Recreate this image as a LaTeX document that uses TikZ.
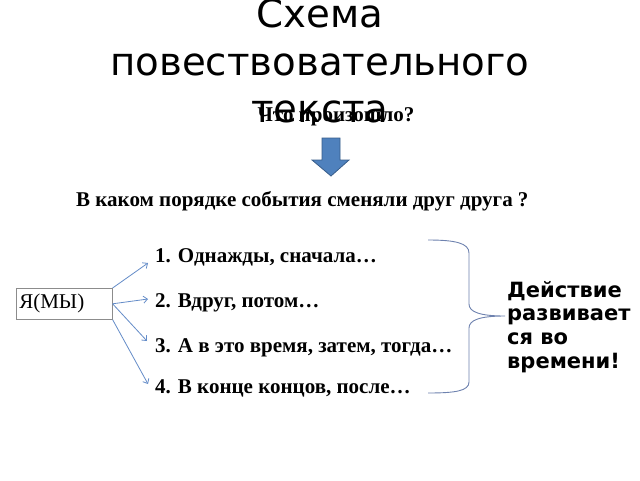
\documentclass[tikz,border=0pt]{standalone}
\usepackage{fontspec}
\setmainfont{Liberation Serif}
\newfontfamily\dejavu{DejaVu Sans}
\usetikzlibrary{arrows.meta}
\definecolor{arrfill}{RGB}{79,129,189}
\definecolor{arrline}{RGB}{56,93,138}
\definecolor{conn}{RGB}{100,140,200}
\definecolor{bracec}{RGB}{110,130,175}
\tikzset{
  titletext/.style={inner sep=0pt, anchor=base, font=\dejavu\fontsize{38.7}{46}\selectfont},
  qtext/.style={inner sep=0pt, anchor=base west, font=\bfseries\fontsize{21}{25}\selectfont},
  itemtext/.style={inner sep=0pt, anchor=base west, font=\bfseries\fontsize{21}{25}\selectfont},
  righttext/.style={inner sep=0pt, anchor=base west, font=\dejavu\bfseries\fontsize{21}{24}\selectfont},
  conarrow/.style={draw=conn, line width=0.8pt, -{Straight Barb[length=4pt,width=7pt]}},
}
\begin{document}
\begin{tikzpicture}[x=1pt,y=-1pt]
\fill[white] (0,0) rectangle (640,480);
\useasboundingbox (0,0) rectangle (640,480);
% title
\node[titletext] (t1) at (320,27) {Схема};
\node[titletext] (t2) at (320,75) {повествовательного};
\node[titletext] (t3) at (320,122) {текста};
% question
\node[qtext, anchor=base] (q1) at (336,121) {Что произошло?};
% block arrow
\path[fill=arrfill, draw=arrline, line width=0.8pt]
  (322,138) -- (340,138) -- (340,160) -- (349,160) -- (331,176) -- (312,160) -- (322,160) -- cycle;
\node[qtext] (q2) at (76,206) {В каком порядке события сменяли друг друга ?};
% items
\node[itemtext] (i1) at (155,262) {1. Однажды, сначала…};
\node[itemtext] (i2) at (155,307) {2. Вдруг, потом…};
\node[itemtext] (i3) at (155,352) {3. А в это время, затем, тогда…};
\node[itemtext] (i4) at (155,393) {4. В конце концов, после…};
% box
\node[draw=black!45, line width=0.6pt, minimum width=96pt, minimum height=31pt, inner sep=0pt,
      anchor=north west, text width=90pt, align=left, font=\fontsize{21}{25}\selectfont] (ya) at (16,288) {Я(МЫ)};
\coordinate (e1) at (148,263);
\coordinate (e2) at (148,299);
\coordinate (e3) at (147,341);
\coordinate (e4) at (148,384);
\draw[conarrow] (ya.north east) -- (e1);
\draw[conarrow] (ya.east) -- (e2);
\draw[conarrow] (ya.east) -- (e3);
\draw[conarrow] (ya.south east) -- (e4);
% brace
\draw[bracec, line width=0.9pt]
  (428,240) .. controls (455,240) and (469,243) .. (469,253) -- (469,304)
  .. controls (469,312) and (480,316) .. (505,316)
  .. controls (480,316) and (469,320) .. (469,328) -- (469,382)
  .. controls (469,391) and (455,393) .. (428,393);
% right text
\node[righttext] (r1) at (507,297) {Действие};
\node[righttext] (r2) at (507,320) {развивает};
\node[righttext] (r3) at (507,344) {ся во};
\node[righttext] (r4) at (507,368) {времени!};
\end{tikzpicture}
\end{document}
